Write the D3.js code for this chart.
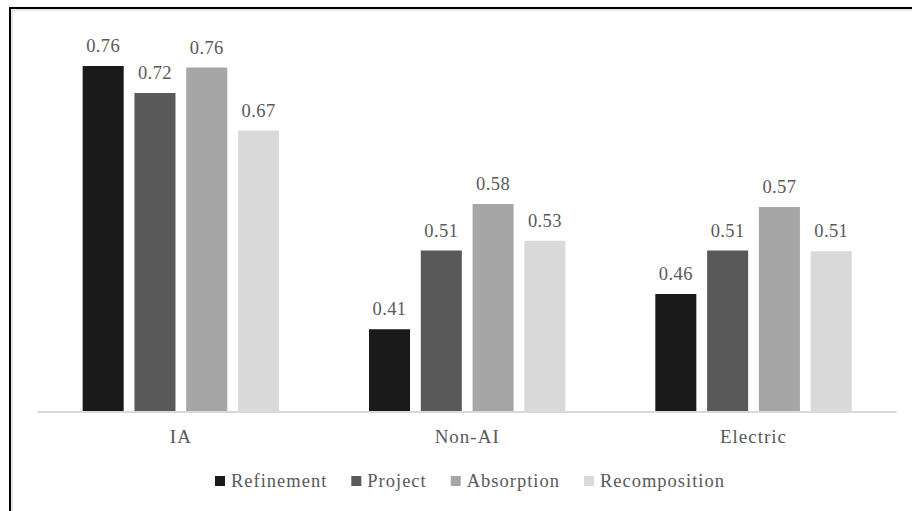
<!DOCTYPE html>
<html>
<head>
<meta charset="utf-8">
<script src="https://cdn.jsdelivr.net/npm/d3@7"></script>
<style>
  body { margin: 0; background: #fff; }
  svg text { font-family: "Liberation Serif", serif; fill: #595959; }
</style>
</head>
<body>
<svg width="912" height="511"></svg>
<script>
var categories = ["IA", "Non-AI", "Electric"];
var series = ["Refinement", "Project", "Absorption", "Recomposition"];
var refinement = [0.760, 0.409, 0.456];
var project = [0.724, 0.514, 0.514];
var absorption = [0.758, 0.576, 0.572];
var recomposition = [0.674, 0.527, 0.513];
var colors = ["#1a1a1a", "#595959", "#a6a6a6", "#d9d9d9"];

var values = [refinement, project, absorption, recomposition];
var data = categories.map(function (c, i) {
  return { cat: c, vals: series.map(function (s, j) { return { key: s, idx: j, v: values[j][i] }; }) };
});

var svg = d3.select("svg");

// frame (only left and top edges are in view)
svg.append("path").attr("d", "M10,512V8H913").attr("fill", "none")
   .attr("stroke", "#000").attr("stroke-width", 2);
svg.append("path").attr("d", "M12,512V10H913").attr("fill", "none")
   .attr("stroke", "#cfcfcf").attr("stroke-width", 1);

var baseY = 411;
var x0 = d3.scaleBand().domain(categories).range([37.7, 896.7])
           .paddingInner(0.314).paddingOuter(0.157);
var x1 = d3.scaleBand().domain(series).range([0, x0.bandwidth()])
           .paddingInner(0.208).paddingOuter(0);
var y = d3.scaleLinear().domain([0.3, 0.8]).range([baseY, 36]);

var g = svg.selectAll(".grp").data(data).enter().append("g")
  .attr("transform", function (d) { return "translate(" + x0(d.cat) + ",0)"; });

g.selectAll("rect").data(function (d) { return d.vals; }).enter().append("rect")
  .attr("x", function (d) { return x1(d.key); })
  .attr("y", function (d) { return y(d.v); })
  .attr("width", x1.bandwidth())
  .attr("height", function (d) { return baseY - y(d.v); })
  .attr("fill", function (d) { return colors[d.idx]; });

g.selectAll(".lbl").data(function (d) { return d.vals; }).enter().append("text")
  .attr("class", "lbl")
  .attr("x", function (d) { return x1(d.key) + x1.bandwidth() / 2; })
  .attr("y", function (d) { return y(d.v) - 14; })
  .attr("text-anchor", "middle")
  .style("font-size", "18.5px")
  .style("letter-spacing", "0.4px")
  .text(function (d) { return d3.format(".2f")(d.v); });

// x axis line
svg.append("line").attr("x1", 37.7).attr("x2", 896.7)
   .attr("y1", baseY + 1).attr("y2", baseY + 1)
   .attr("stroke", "#d9d9d9").attr("stroke-width", 2);

svg.selectAll(".cat").data(categories).enter().append("text")
  .attr("class", "cat")
  .attr("x", function (d) { return x0(d) + x0.bandwidth() / 2; })
  .attr("y", 443)
  .attr("text-anchor", "middle")
  .style("font-size", "19px")
  .style("letter-spacing", "1px")
  .text(function (d) { return d; });

// legend
var leg = svg.append("g");
var cx = 0;
series.forEach(function (s, i) {
  var item = leg.append("g").attr("transform", "translate(" + cx + ",0)");
  item.append("rect").attr("x", 0).attr("y", 476).attr("width", 10).attr("height", 10)
      .attr("fill", colors[i]);
  var t = item.append("text").attr("x", 16).attr("y", 487)
      .style("font-size", "18.5px").style("letter-spacing", "1px").text(s);
  cx += 16 + t.node().getComputedTextLength() + 24;
});
var legW = cx - 24;
leg.attr("transform", "translate(" + (470 - legW / 2) + ",0)");
</script>
</body>
</html>
